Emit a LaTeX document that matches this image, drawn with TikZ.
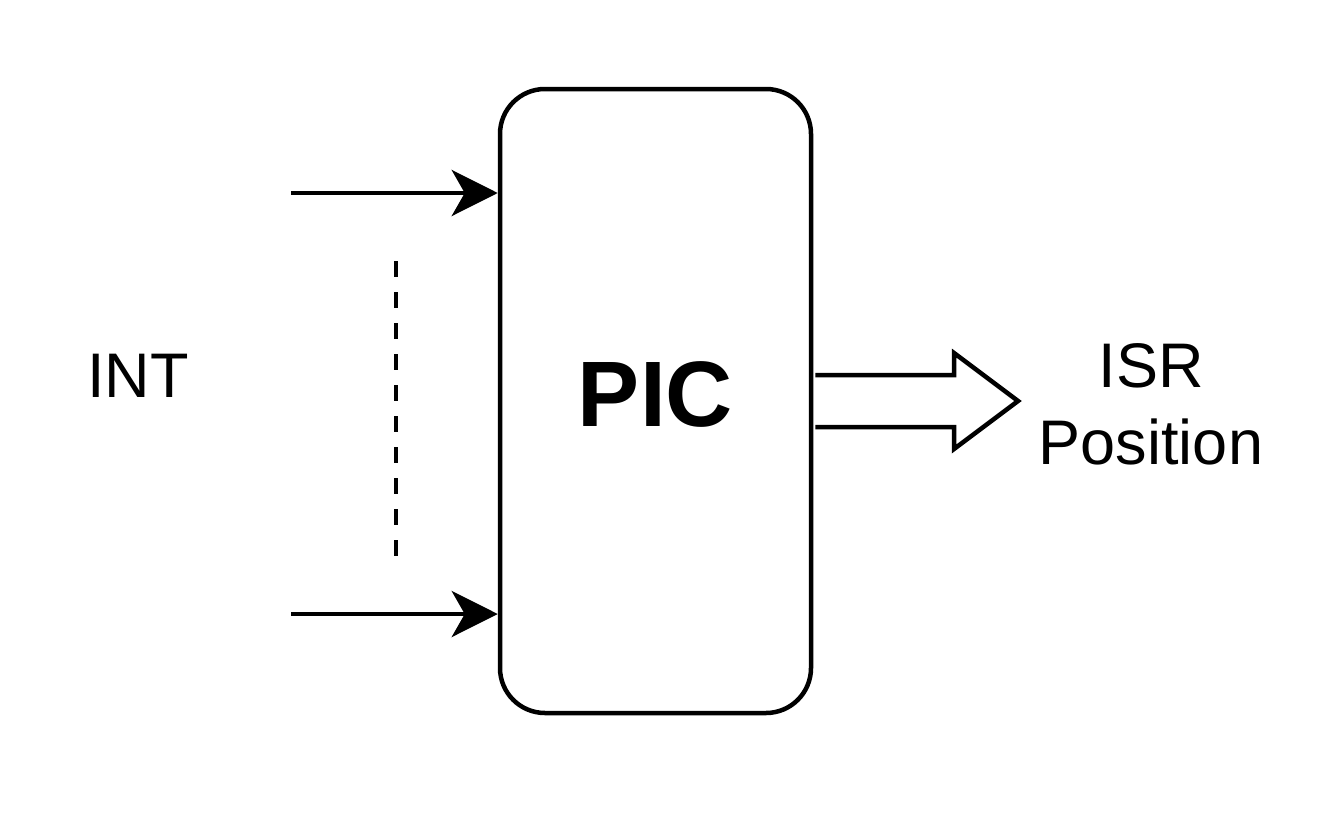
\documentclass[tikz,border=0pt]{standalone}
\usepackage{fontspec}
\setmainfont{Liberation Sans}
\usetikzlibrary{arrows.meta,calc}
\begin{document}
\begin{tikzpicture}[x=1pt,y=-1pt,line width=4.5pt,
  lbl/.style={font=\fontsize{63}{77}\selectfont, align=center, inner sep=0pt},
  inarrow/.style={-{Stealth[length=46pt,width=46pt,inset=13pt]}, line cap=butt},
  dashline/.style={dash pattern=on 16pt off 15pt}]
\useasboundingbox (0,0) rectangle (1335,819);
\node[draw, rounded corners=45pt, minimum width=311pt, minimum height=624pt, inner sep=0pt] (pic) at (655.5,401) {};
\node[font=\bfseries\fontsize{93}{100}\selectfont, inner sep=0pt] (pict) at (655.5,394) {PIC};
\coordinate (in1) at (291,193);
\coordinate (in2) at (291,614);
\draw[inarrow] (in1) -- (pic.west |- in1);
\draw[inarrow] (in2) -- (pic.west |- in2);
\coordinate (d1) at (396,261);
\coordinate (d2) at (396,557);
\draw[dashline] (d1) -- (d2);
\node[lbl] (int) at (138,376) {INT};
\node[lbl] (isr) at (1151,404) {ISR\\Position};
\draw[line join=miter] ($(pic.east)+(2,-26)$) -- (954,375) -- (954,353) -- (1018,401) -- (954,449) -- (954,427) -- ($(pic.east)+(2,26)$);
\end{tikzpicture}
\end{document}
